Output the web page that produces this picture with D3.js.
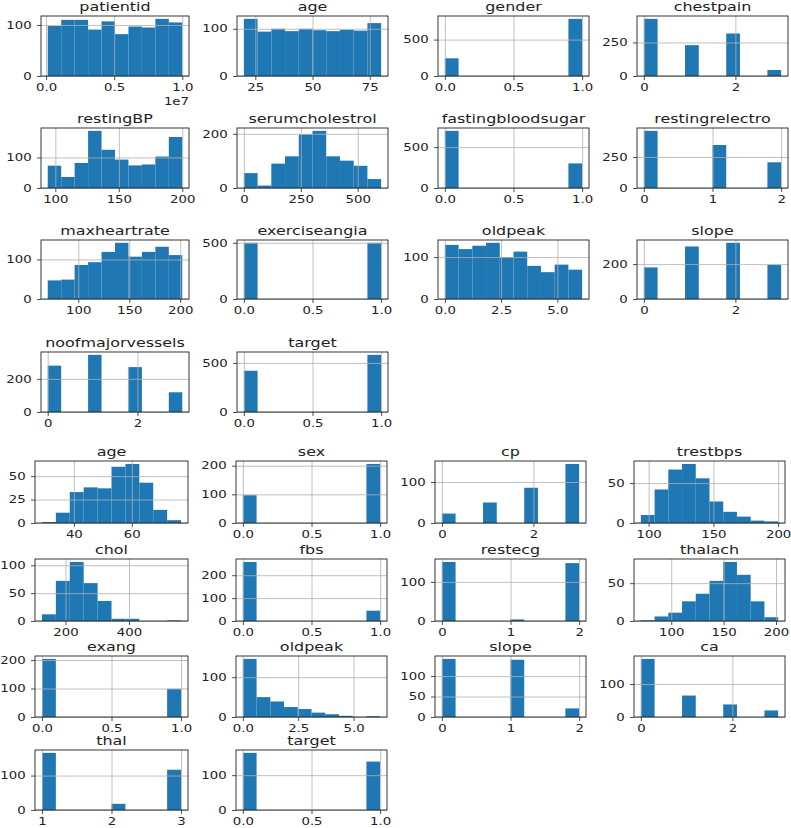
<!DOCTYPE html>
<html>
<head>
<meta charset="utf-8">
<script src="https://cdn.jsdelivr.net/npm/d3@7"></script>
<style>
  body { margin: 0; background: #fff; }
  text { font-family: "DejaVu Sans", sans-serif; fill: #222; }
</style>
</head>
<body>
<div id="chart"></div>
<script>
// ---- first dataset (1000 patients) ----
var topNames = ["patientid", "age", "gender", "chestpain",
                "restingBP", "serumcholestrol", "fastingbloodsugar", "restingrelectro",
                "maxheartrate", "exerciseangia", "oldpeak", "slope",
                "noofmajorvessels", "target"]
// [min, max] of each column (patientid in units of 1e7)
var topRanges = [[0.012, 1.0], [20, 80], [0, 1], [0, 3],
                 [94, 200], [0, 603], [0, 1], [0, 2],
                 [70, 202], [0, 1], [0, 6.1], [0, 3],
                 [0, 3], [0, 1]]
var topCounts = [
    [98, 110, 110, 91, 107, 82, 97, 95, 112, 105],
    [121, 94, 100, 95, 100, 97, 95, 98, 96, 112],
    [243, 0, 0, 0, 0, 0, 0, 0, 0, 785],
    [426, 0, 0, 230, 0, 0, 317, 0, 0, 45],
    [73, 36, 82, 187, 125, 93, 74, 77, 103, 167],
    [55, 9, 90, 117, 198, 211, 117, 101, 82, 33],
    [699, 0, 0, 0, 0, 0, 0, 0, 0, 301],
    [460, 0, 0, 0, 0, 346, 0, 0, 0, 207],
    [47, 49, 86, 93, 119, 142, 107, 119, 132, 111],
    [500, 0, 0, 0, 0, 0, 0, 0, 0, 500],
    [129, 119, 127, 134, 100, 113, 79, 64, 82, 70],
    [181, 0, 0, 301, 0, 0, 322, 0, 0, 196],
    [280, 0, 0, 345, 0, 0, 271, 0, 0, 119],
    [420, 0, 0, 0, 0, 0, 0, 0, 0, 582]
]
var topXTicks = [[0, 0.5, 1.0], [25, 50, 75], [0, 0.5, 1.0], [0, 2],
                 [100, 150, 200], [0, 250, 500], [0, 0.5, 1.0], [0, 1, 2],
                 [100, 150, 200], [0, 0.5, 1.0], [0, 2.5, 5.0], [0, 2],
                 [0, 2], [0, 0.5, 1.0]]
var topYTicks = [[0, 100], [0, 100], [0, 500], [0, 250],
                 [0, 100], [0, 200], [0, 500], [0, 250],
                 [0, 100], [0, 500], [0, 100], [0, 200],
                 [0, 200], [0, 500]]
var topOffsets = ["1e7", "", "", "", "", "", "", "", "", "", "", "", "", ""]

// ---- second dataset (Cleveland, 303 patients) ----
var botNames = ["age", "sex", "cp", "trestbps",
                "chol", "fbs", "restecg", "thalach",
                "exang", "oldpeak", "slope", "ca",
                "thal", "target"]
var botRanges = [[29, 77], [0, 1], [0, 3], [94, 200],
                 [126, 564], [0, 1], [0, 2], [71, 202],
                 [0, 1], [0, 6.2], [0, 2], [0, 3],
                 [1, 3], [0, 1]]
var botCounts = [
    [1, 11, 33, 38, 37, 60, 63, 43, 14, 3],
    [97, 0, 0, 0, 0, 0, 0, 0, 0, 206],
    [23, 0, 0, 50, 0, 0, 86, 0, 0, 144],
    [10, 42, 67, 74, 56, 27, 14, 8, 3, 2],
    [12, 72, 106, 68, 36, 4, 4, 0, 0, 1],
    [258, 0, 0, 0, 0, 0, 0, 0, 0, 45],
    [151, 0, 0, 0, 0, 4, 0, 0, 0, 148],
    [1, 6, 11, 26, 36, 53, 78, 61, 26, 5],
    [204, 0, 0, 0, 0, 0, 0, 0, 0, 99],
    [146, 50, 39, 25, 20, 11, 7, 3, 0, 2],
    [142, 0, 0, 0, 0, 140, 0, 0, 0, 21],
    [176, 0, 0, 65, 0, 0, 38, 0, 0, 20],
    [166, 0, 0, 0, 0, 18, 0, 0, 0, 117],
    [164, 0, 0, 0, 0, 0, 0, 0, 0, 139]
]
var botXTicks = [[40, 60], [0, 0.5, 1.0], [0, 2], [100, 150, 200],
                 [200, 400], [0, 0.5, 1.0], [0, 1, 2], [100, 150, 200],
                 [0, 0.5, 1.0], [0, 2.5, 5.0], [0, 1, 2], [0, 2],
                 [1, 2, 3], [0, 0.5, 1.0]]
var botYTicks = [[0, 25, 50], [0, 100, 200], [0, 100], [0, 50],
                 [0, 50, 100], [0, 100, 200], [0, 100], [0, 50],
                 [0, 100, 200], [0, 100], [0, 50, 100], [0, 100],
                 [0, 100], [0, 100]]

// the picture is stretched sideways, so text gets the same stretch
var SX = 1.33
var width = 791, height = 828

var topCols = [[41, 189], [237, 388], [438, 589], [637, 788]]
var topRows = [[16, 76], [128, 188], [240, 299], [352, 412]]
var botCols = [[35, 188], [236, 387], [435, 586], [634, 785]]
var botRows = [[461, 523], [559, 621], [656, 717], [750, 810]]

var svg = d3.select("#chart")
            .append("svg")
            .attr("width", width)
            .attr("height", height)

function stretchText(sel, size){
    sel.selectAll("text")
       .style("font-size", size + "px")
       .style("font-family", "DejaVu Sans, sans-serif")
       .attr("fill", "#222")
       .attr("transform", "scale(" + SX + ",1)")
}

function fmt(ticks){
    var frac = ticks.some(function(t){ return t % 1 != 0 })
    return function(d){ return frac ? d.toFixed(1) : String(d) }
}

function drawPanel(box, name, range, counts, xticks, yticks, offset){
    var lo = range[0], hi = range[1]
    var pad = (hi - lo) * 0.05
    var binW = (hi - lo) / counts.length

    var x = d3.scaleLinear().domain([lo - pad, hi + pad]).range([box.x0, box.x1])
    var y = d3.scaleLinear().domain([0, d3.max(counts) * 1.05]).range([box.y1, box.y0])

    var g = svg.append("g")

    // bars
    g.selectAll("rect.bar")
     .data(counts)
     .enter()
     .append("rect")
     .attr("class", "bar")
     .attr("x", function(d, i){ return x(lo + i * binW) })
     .attr("width", function(d, i){ return x(lo + (i + 1) * binW) - x(lo + i * binW) })
     .attr("y", function(d){ return y(d) })
     .attr("height", function(d){ return y(0) - y(d) })
     .attr("fill", "#1f77b4")

    // grid on top of the bars, like matplotlib
    var gx = g.append("g")
              .attr("transform", "translate(0," + box.y1 + ")")
              .call(d3.axisBottom(x).tickValues(xticks).tickSize(-(box.y1 - box.y0)).tickFormat(""))
    var gy = g.append("g")
              .attr("transform", "translate(" + box.x0 + ",0)")
              .call(d3.axisLeft(y).tickValues(yticks).tickSize(-(box.x1 - box.x0)).tickFormat(""))
    g.selectAll(".domain").remove()
    gx.selectAll("line").attr("stroke", "#b0b0b0").attr("stroke-width", 0.8)
    gy.selectAll("line").attr("stroke", "#b0b0b0").attr("stroke-width", 0.8)

    // axes with labels
    var ax = g.append("g")
              .attr("transform", "translate(0," + box.y1 + ")")
              .call(d3.axisBottom(x).tickValues(xticks).tickSize(4).tickPadding(4).tickFormat(fmt(xticks)))
    var ay = g.append("g")
              .attr("transform", "translate(" + box.x0 + ",0)")
              .call(d3.axisLeft(y).tickValues(yticks).tickSize(4).tickPadding(3).tickFormat(fmt(yticks)))
    ax.select(".domain").remove()
    ay.select(".domain").remove()
    ax.selectAll("line").attr("stroke", "#222").attr("stroke-width", 0.8)
    ay.selectAll("line").attr("stroke", "#222").attr("stroke-width", 0.8)
    stretchText(ax, 10)
    stretchText(ay, 10)

    // frame
    g.append("rect")
     .attr("x", box.x0).attr("y", box.y0)
     .attr("width", box.x1 - box.x0).attr("height", box.y1 - box.y0)
     .attr("fill", "none").attr("stroke", "#222").attr("stroke-width", 0.9)

    // title
    g.append("text")
     .attr("transform", "translate(" + (box.x0 + box.x1) / 2 + "," + (box.y0 - 5) + ") scale(" + SX + ",1)")
     .attr("text-anchor", "middle")
     .style("font-size", "12px")
     .text(name)

    if(offset){
        g.append("text")
         .attr("transform", "translate(" + box.x1 + "," + (box.y1 + 29) + ") scale(" + SX + ",1)")
         .attr("text-anchor", "end")
         .style("font-size", "10px")
         .text(offset)
    }
}

function drawGrid(names, ranges, counts, xt, yt, offsets, cols, rows){
    for (var i = 0; i < names.length; i++) {
        var c = cols[i % 4], r = rows[Math.floor(i / 4)]
        var box = {x0: c[0], x1: c[1], y0: r[0], y1: r[1]}
        drawPanel(box, names[i], ranges[i], counts[i], xt[i], yt[i], offsets ? offsets[i] : "")
    }
}

drawGrid(topNames, topRanges, topCounts, topXTicks, topYTicks, topOffsets, topCols, topRows)
drawGrid(botNames, botRanges, botCounts, botXTicks, botYTicks, null, botCols, botRows)
</script>
</body>
</html>
